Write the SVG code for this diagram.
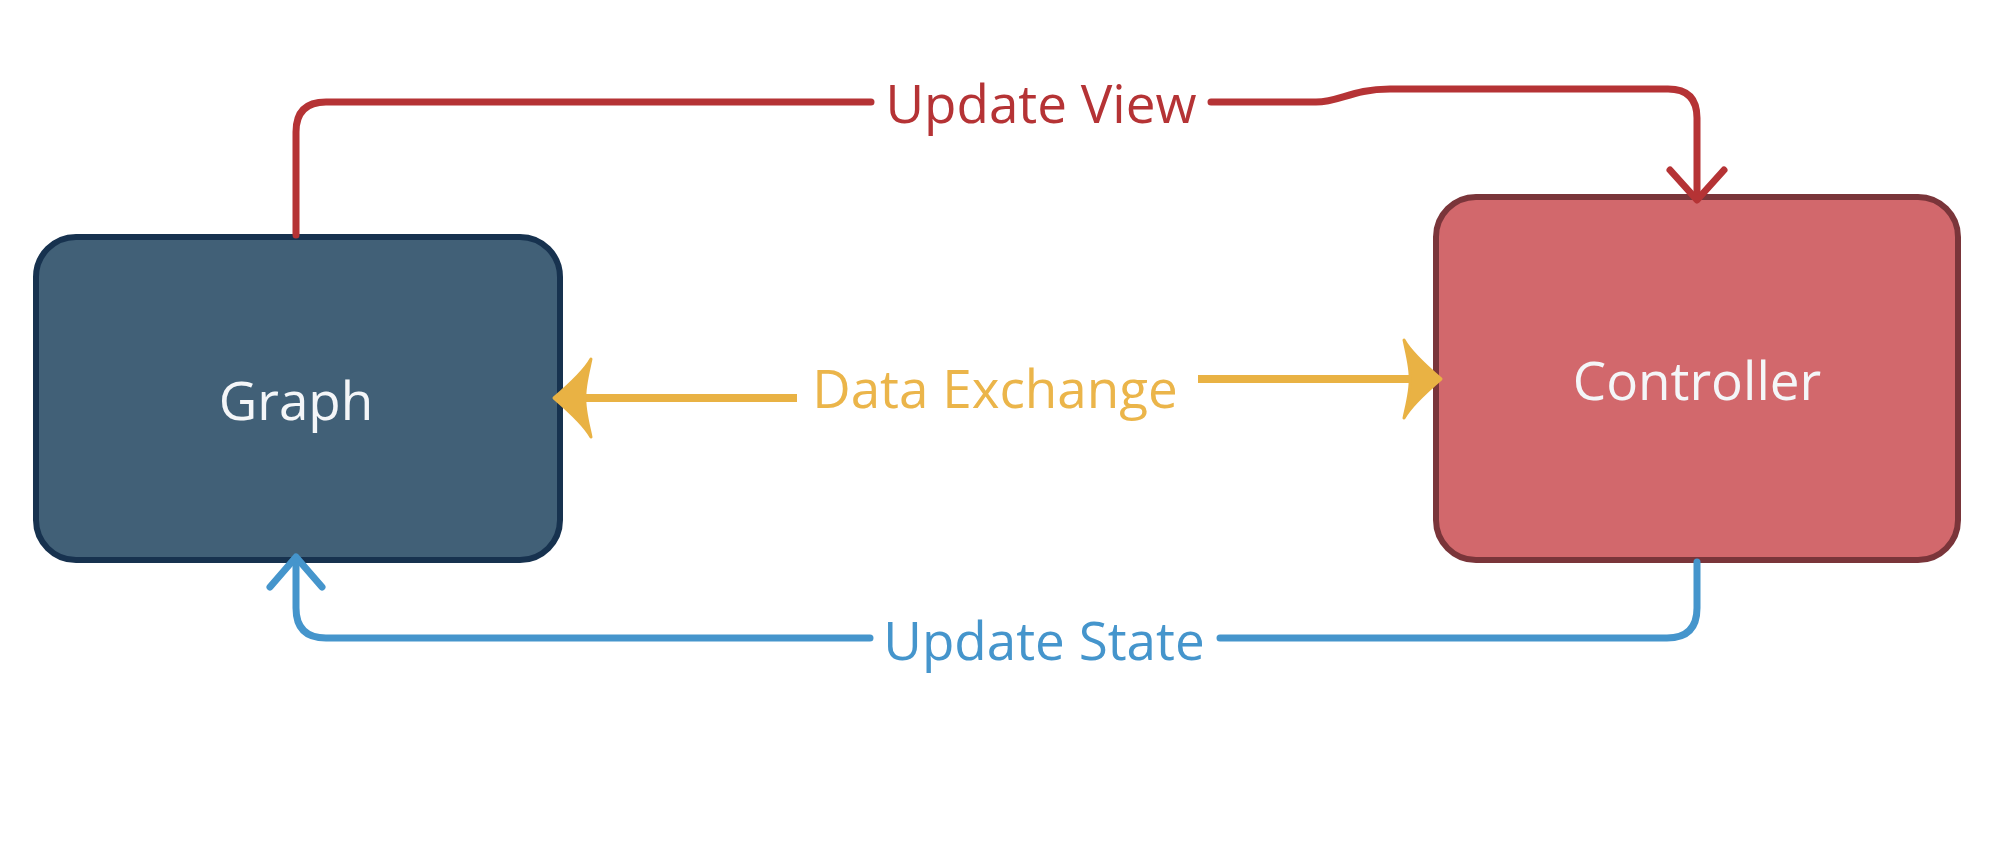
<svg xmlns="http://www.w3.org/2000/svg" width="2006" height="860" viewBox="0 0 2006 860">
<style>
.lbl{font-family:"Open Sans","Noto Sans","DejaVu Sans",sans-serif;font-size:53px;text-anchor:middle}
.node-text{fill:#f4f6f8}
.red{stroke:#b53335;fill:none;stroke-width:7;stroke-linecap:round;stroke-linejoin:round}
.blue{stroke:#4595cc;fill:none;stroke-width:7;stroke-linecap:round;stroke-linejoin:round}
.yel{stroke:#e9b244;fill:none;stroke-width:8}
.yelhead{fill:#e9b244;stroke:#e9b244;stroke-width:3;stroke-linejoin:round}
</style>
<rect width="2006" height="860" fill="#ffffff"/>
<g id="graph">
<rect x="36" y="237" width="524" height="323" rx="40" ry="40" fill="#416077" stroke="#17324f" stroke-width="6"/>
<text class="lbl node-text" x="296" y="420">Graph</text>
</g>
<g id="controller">
<rect x="1436" y="197" width="522" height="363" rx="40" ry="40" fill="#d2686c" stroke="#7a353a" stroke-width="6"/>
<text class="lbl node-text" x="1697" y="400">Controller</text>
</g>
<g id="connectors">
<path class="red" d="M296 235 V132 Q296 102 326 102 H871"/>
<path class="red" d="M1211 102 H1316 C1340 102 1352 89 1390 89 H1668 Q1697 89 1697 118 V198"/>
<path class="red" d="M1670 170 L1697 200 L1724 170"/>
<text class="lbl" fill="#b53335" x="1041" y="123">Update View</text>
<path class="yel" d="M797 398 H575"/>
<path class="yelhead" d="M554 398 C568 386 584 372 591 359 C588 373 584 388 585 398 C584 408 588 423 591 437 C584 424 568 410 554 398 Z"/>
<path class="yel" d="M1198 379 H1420"/>
<path class="yelhead" d="M1441 379 C1427 367 1411 353 1404 340 C1407 354 1411 369 1410 379 C1411 389 1407 404 1404 418 C1411 405 1427 391 1441 379 Z"/>
<text class="lbl" fill="#ebb54a" x="995" y="408">Data Exchange</text>
<path class="blue" d="M1697 562 V608 Q1697 638 1667 638 H1220"/>
<path class="blue" d="M870 638 H326 Q296 638 296 608 V558"/>
<path class="blue" d="M270 587 L296 557 L322 587"/>
<text class="lbl" fill="#4595cc" x="1044" y="660">Update State</text>
</g>
</svg>
